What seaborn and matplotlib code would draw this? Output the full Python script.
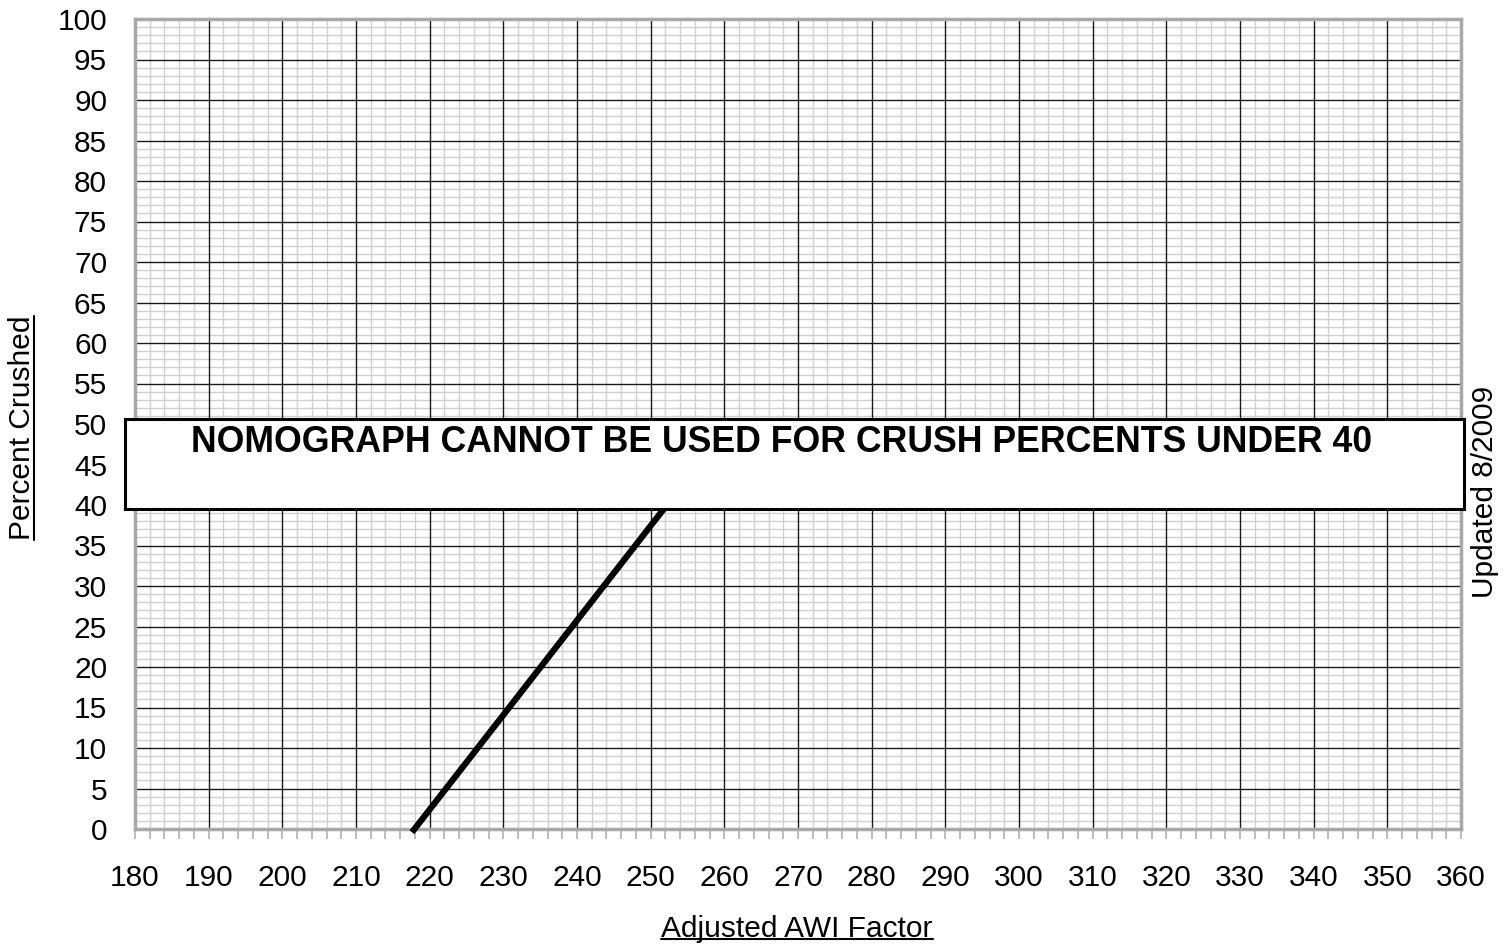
import matplotlib
matplotlib.use("Agg")
import matplotlib.pyplot as plt
import seaborn as sns
import pandas as pd
import numpy as np
from matplotlib.patches import Rectangle
from matplotlib.lines import Line2D
from matplotlib.ticker import MultipleLocator

# ---- data ----
awi_factor = [217.6, 252.2]
percent_crushed = [-0.4, 40.0]
x_ticks = list(range(180, 361, 10))
y_ticks = list(range(0, 101, 5))
box_text = "NOMOGRAPH CANNOT BE USED FOR CRUSH PERCENTS UNDER 40"
x_label = "Adjusted AWI Factor"
y_label = "Percent Crushed"
side_note = "Updated 8/2009"

sns.set_theme(style="white")
plt.rcParams['font.family'] = ['Liberation Sans', 'DejaVu Sans']
plt.rcParams['text.color'] = 'black'
plt.rcParams['xtick.labelcolor'] = 'black'
plt.rcParams['ytick.labelcolor'] = 'black'

W, H = 1506, 952
fig = plt.figure(figsize=(W / 100, H / 100), dpi=100)
fig.patch.set_facecolor('white')
L, R, T, B = 135, 1461, 19, 829
ax = fig.add_axes([L / W, 1 - B / H, (R - L) / W, (B - T) / H])

xmin, xmax, ymin, ymax = x_ticks[0], x_ticks[-1], y_ticks[0], y_ticks[-1]

# minor grid through the axis machinery, major grid on top
ax.xaxis.set_minor_locator(MultipleLocator(2))
ax.yaxis.set_minor_locator(MultipleLocator(1))
ax.grid(which="minor", color="#d0d0d0", linewidth=1.0)
ax.grid(which="major", visible=False)
ax.set_axisbelow(True)
ax.vlines(x_ticks[1:-1], ymin, ymax, color="#1a1a1a", linewidth=1.0, zorder=1)
ax.hlines(y_ticks[1:-1], xmin, xmax, color="#1a1a1a", linewidth=1.0, zorder=1)

df = pd.DataFrame({"x": awi_factor, "y": percent_crushed})
sns.lineplot(data=df, x="x", y="y", ax=ax, color="black", linewidth=4.5,
             solid_capstyle="butt", zorder=4, clip_on=False)

ax.set_xlim(xmin, xmax)
ax.set_ylim(ymin, ymax)
ax.set_xticks(x_ticks)
ax.set_yticks(y_ticks)
ax.set_xticklabels([str(v) for v in x_ticks])
ax.set_yticklabels([str(v) for v in y_ticks])

ax.tick_params(axis="x", which="both", direction="out", length=7, width=1.2,
               color="#b0b0b0", bottom=True, pad=18, labelsize=21.5, labelcolor="black")
ax.tick_params(axis="y", which="both", length=0, pad=20, labelsize=21.5, labelcolor="black")

for s in ax.spines.values():
    s.set_color("#a8a8a8")
    s.set_linewidth(2.5)
    s.set_visible(True)
    s.set_zorder(3)

ax.set_xlabel("")
ax.set_ylabel("")

# axis titles (underlined)
xt = fig.text(797 / W, 1 - 929 / H, x_label, ha="center", va="center",
              fontsize=21.5, color="black")
yt = fig.text(22 / W, 1 - 428 / H, y_label, ha="center", va="center",
              fontsize=21.5, rotation=90, color="black")
fig.text(1485 / W, 1 - 492 / H, side_note, ha="center", va="center",
         fontsize=21.5, rotation=90, color="black")

# warning box
bx0, bx1, by0, by1 = 125, 1464, 419, 509
rect = Rectangle((bx0 / W, 1 - by1 / H), (bx1 - bx0) / W, (by1 - by0) / H,
                 transform=fig.transFigure, facecolor="white", edgecolor="black",
                 linewidth=2.2, zorder=10, clip_on=False)
fig.patches.append(rect)
fig.text(782 / W, 1 - 443 / H, box_text, ha="center", va="center",
         fontsize=25.7, fontweight="bold", color="black", zorder=11)

# underline decorations
fig.canvas.draw()
r = fig.canvas.get_renderer()
bb = xt.get_window_extent(r)
uy = bb.y0 + 4
fig.add_artist(Line2D([bb.x0 / W, bb.x1 / W], [uy / H, uy / H],
                      transform=fig.transFigure, color="black", linewidth=1.5))
bb = yt.get_window_extent(r)
ux = bb.x1 - 2
fig.add_artist(Line2D([ux / W, ux / W], [bb.y0 / H, bb.y1 / H],
                      transform=fig.transFigure, color="black", linewidth=1.5))

fig.savefig("out.png", dpi=100, facecolor="white")
